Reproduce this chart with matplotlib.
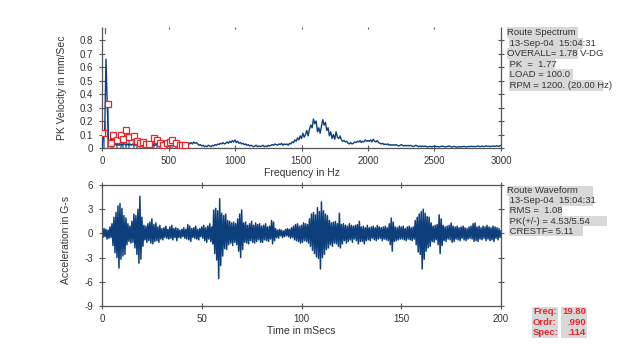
import numpy as np
import matplotlib
matplotlib.use("Agg")
import matplotlib.pyplot as plt
from matplotlib.patches import Rectangle

plt.rcParams['font.family'] = ['Liberation Sans', 'DejaVu Sans']

# spectrum, one value every 10 Hz from 0 to 3000 Hz (mm/Sec)
spec_df = 10
spec_vals = [
    0.0, 0.08, 0.12, 0.66, 0.30, 0.04, 0.03, 0.09, 0.03, 0.02,
    0.03, 0.02, 0.03, 0.02, 0.03, 0.02, 0.03, 0.03, 0.02, 0.03,
    0.02, 0.03, 0.02, 0.03, 0.02, 0.02, 0.03, 0.02, 0.02, 0.03,
    0.02, 0.02, 0.03, 0.02, 0.02, 0.03, 0.02, 0.02, 0.03, 0.02,
    0.02, 0.03, 0.02, 0.02, 0.03, 0.02, 0.02, 0.03, 0.02, 0.02,
    0.03, 0.02, 0.02, 0.03, 0.02, 0.02, 0.02, 0.03, 0.02, 0.02,
    0.02, 0.02, 0.03, 0.02, 0.03, 0.04, 0.03, 0.04, 0.03, 0.045,
    0.035, 0.04, 0.03, 0.02, 0.025, 0.015, 0.02, 0.01, 0.015, 0.01,
    0.02, 0.015, 0.01, 0.02, 0.015, 0.025, 0.02, 0.03, 0.025, 0.035,
    0.03, 0.04, 0.03, 0.035, 0.045, 0.035, 0.05, 0.04, 0.055, 0.045,
    0.06, 0.04, 0.05, 0.035, 0.04, 0.03, 0.035, 0.025, 0.03, 0.02,
    0.025, 0.015, 0.02, 0.015, 0.01, 0.015, 0.02, 0.01, 0.015, 0.01,
    0.015, 0.02, 0.01, 0.015, 0.01, 0.02, 0.015, 0.02, 0.025, 0.02,
    0.03, 0.025, 0.02, 0.03, 0.025, 0.035, 0.02, 0.03, 0.025, 0.03,
    0.02, 0.035, 0.03, 0.045, 0.04, 0.06, 0.05, 0.075, 0.06, 0.09,
    0.07, 0.11, 0.08, 0.10, 0.13, 0.09, 0.14, 0.17, 0.15, 0.215,
    0.18, 0.20, 0.12, 0.15, 0.11, 0.16, 0.21, 0.17, 0.19, 0.13,
    0.15, 0.09, 0.12, 0.07, 0.10, 0.065, 0.12, 0.08, 0.07, 0.09,
    0.06, 0.05, 0.055, 0.045, 0.05, 0.035, 0.03, 0.04, 0.03, 0.035,
    0.045, 0.04, 0.05, 0.045, 0.055, 0.04, 0.05, 0.045, 0.06, 0.05,
    0.055, 0.05, 0.06, 0.045, 0.065, 0.05, 0.045, 0.055, 0.04, 0.035,
    0.03, 0.035, 0.025, 0.03, 0.025, 0.03, 0.02, 0.025, 0.02, 0.025,
    0.02, 0.025, 0.02, 0.015, 0.02, 0.025, 0.02, 0.015, 0.02, 0.015,
    0.02, 0.015, 0.02, 0.015, 0.01, 0.015, 0.02, 0.015, 0.01, 0.015,
    0.01, 0.015, 0.01, 0.015, 0.01, 0.008, 0.012, 0.01, 0.008, 0.012,
    0.015, 0.01, 0.012, 0.008, 0.01, 0.012, 0.015, 0.01, 0.008, 0.01,
    0.012, 0.015, 0.01, 0.008, 0.01, 0.012, 0.008, 0.006, 0.008, 0.01,
    0.008, 0.01, 0.012, 0.01, 0.008, 0.01, 0.012, 0.01, 0.013, 0.01,
    0.012, 0.01, 0.013, 0.015, 0.01, 0.012, 0.014, 0.01, 0.013, 0.015,
    0.012, 0.014, 0.01, 0.013, 0.015, 0.012, 0.014, 0.016, 0.012, 0.015,
    0.02,
]

# harmonic markers (red squares)
harm_freq = [15, 45, 65, 85, 110, 140, 160, 180, 205, 240, 260, 285, 310,
             330, 350, 390, 410, 435, 460, 485, 510, 530, 560, 585, 605, 625]
harm_amp = [0.11, 0.33, 0.035, 0.10, 0.06, 0.10, 0.065, 0.13, 0.085, 0.09,
            0.055, 0.04, 0.047, 0.03, 0.03, 0.077, 0.06, 0.04, 0.025, 0.035,
            0.047, 0.06, 0.035, 0.025, 0.02, 0.02]
cursor_freq = 19.8

# waveform, one sample every 0.5 ms from 0 to 200 ms (G-s)
wave_dt = 0.5
wave_vals = [
    0.2, -0.5, 0.6, -0.4, 0.5, -0.7, 0.4, -0.6, 0.8, -0.5, 1.2, -1.5, 2.0, -2.4, 2.6, -3.0, 3.4, -4.3, 3.7, -3.2,
    3.1, -2.8, 2.2, -2.6, 1.9, -1.4, 1.2, -1.0, 0.9, -1.2, 1.5, -1.1, 2.4, -1.8, 2.2, -2.6, 3.0, -3.7, 4.6, -3.2,
    2.0, -1.6, 1.0, -0.8, 0.9, -1.1, 1.2, -0.9, 1.4, -1.2, 1.8, -1.3, 1.1, -1.0, 1.3, -0.9, 0.8, -1.1, 1.0, -0.7,
    0.6, -0.8, 0.7, -0.5, 0.9, -0.6, 0.5, -0.7, 0.8, -0.6, 1.0, -0.8, 0.6, -0.5, 0.7, -0.9, 0.6, -0.5, 0.4, -0.6,
    0.5, -0.4, 0.7, -0.6, 0.5, -0.7, 1.1, -0.8, 0.9, -1.0, 0.6, -0.5, 0.7, -0.6, 0.9, -0.7, 0.5, -0.8, 0.6, -0.4,
    0.8, -0.6, 1.0, -0.9, 0.7, -1.1, 0.9, -0.7, 1.2, -1.0, 0.8, -1.3, 2.9, -2.5, 3.1, -3.3, 2.8, -5.6, 4.3, -4.0,
    2.5, -2.8, 2.2, -1.9, 2.4, -2.0, 1.6, -1.4, 1.5, -1.2, 1.3, -1.5, 1.4, -1.1, 1.2, -1.4, 1.8, -2.2, 2.4, -3.0,
    2.9, -2.0, 1.3, -1.1, 1.4, -1.2, 1.0, -1.3, 1.2, -0.9, 1.5, -1.1, 1.0, -1.2, 1.3, -1.0, 1.1, -0.8, 1.2, -1.1,
    0.9, -1.1, 1.0, -0.8, 1.2, -0.9, 0.8, -1.0, 0.9, -0.7, 1.6, -1.3, 1.4, -0.9, 0.6, -0.5, 0.4, -0.6, 0.5, -0.3,
    0.4, -0.5, 0.3, -0.4, 0.5, -0.3, 0.6, -0.4, 0.5, -0.6, 0.7, -0.5, 0.9, -0.8, 1.1, -0.9, 1.2, -1.0, 0.9, -1.2,
    1.0, -1.1, 1.3, -0.9, 1.2, -1.0, 1.1, -1.2, 1.8, -1.6, 2.4, -2.1, 2.6, -2.5, 2.3, -2.9, 3.2, -3.1, 2.7, -4.4,
    3.9, -3.0, 2.8, -2.6, 2.4, -2.0, 2.2, -1.8, 1.6, -1.4, 1.3, -1.6, 1.4, -1.2, 1.5, -1.3, 1.2, -1.6, 2.5, -1.8,
    1.1, -1.3, 1.2, -0.9, 1.0, -1.2, 0.9, -1.0, 1.2, -0.8, 1.0, -1.1, 0.9, -0.7, 1.0, -0.9, 1.1, -1.3, 1.5, -1.0,
    0.8, -1.0, 0.9, -1.3, 0.7, -0.9, 1.0, -0.8, 0.7, -0.9, 0.8, -0.6, 0.9, -0.8, 0.7, -0.9, 1.0, -0.7, 0.8, -0.6,
    0.7, -0.9, 0.8, -0.7, 0.9, -0.8, 0.7, -0.9, 1.2, -1.4, 1.9, -2.2, 1.4, -1.0, 0.8, -0.9, 0.7, -0.8, 0.9, -0.7,
    0.8, -0.7, 0.9, -0.8, 0.6, -0.9, 0.8, -0.7, 0.9, -0.8, 0.7, -0.9, 0.8, -0.7, 1.6, -1.4, 2.0, -2.3, 2.4, -2.6,
    2.7, -4.4, 3.0, -3.2, 2.5, -2.2, 2.1, -1.8, 2.0, -1.6, 1.3, -1.0, 0.9, -1.1, 1.0, -0.8, 1.1, -1.4, 2.3, -2.5,
    1.8, -1.5, 1.0, -0.9, 0.8, -1.0, 0.9, -0.7, 1.0, -0.8, 1.3, -1.1, 0.9, -1.0, 0.8, -0.7, 0.9, -0.8, 0.7, -0.9,
    0.8, -0.6, 0.9, -0.8, 0.7, -0.9, 0.6, -0.7, 0.8, -0.6, 0.9, -0.7, 1.2, -1.0, 1.3, -0.9, 0.8, -1.0, 0.9, -0.7,
    0.7, -0.8, 0.9, -0.6, 0.8, -0.9, 1.0, -0.7, 0.8, -0.9, 0.7, -0.8, 0.9, -1.0, 0.8, -0.6, 0.7, -0.8, 0.6, -0.5,
    0.3,
]

spec_box = ["Route Spectrum", " 13-Sep-04  15:04:31", "OVERALL= 1.78 V-DG",
            " PK  =  1.77", " LOAD = 100.0", " RPM = 1200. (20.00 Hz)"]
wave_box = ["Route Waveform", " 13-Sep-04  15:04:31", " RMS =  1.08",
            " PK(+/-) = 4.53/5.54", " CRESTF= 5.11"]
cursor_labels = ["Freq:", "Ordr:", "Spec:"]
cursor_values = ["19.80", ".990", ".114"]

W, H = 640, 354
BLUE = "#0d3f7d"
LIGHT = "#4f80c0"
RED = "#e8262a"
GREY_BG = "#d8d8d8"
TXT = "#333333"

fig = plt.figure(figsize=(6.4, 3.54), dpi=100)

def ax_rect(x0, y0, x1, y1):
    return [x0 / W, 1 - y1 / H, (x1 - x0) / W, (y1 - y0) / H]

def style(ax):
    for s in ax.spines.values():
        s.set_color("#555555")
        s.set_linewidth(0.9)
    ax.tick_params(direction="inout", length=5, width=0.8, colors="#555555",
                   labelsize=7, labelcolor=TXT, pad=4)

# ---- spectrum ----
ax1 = fig.add_axes(ax_rect(102, 28, 501, 148))
style(ax1)
freq = np.arange(len(spec_vals)) * spec_df
ax1.vlines(harm_freq, 0, harm_amp, color=LIGHT, lw=1.2, zorder=2)
ax1.plot(freq, spec_vals, color=BLUE, lw=1.0, zorder=3)
ax1.plot(harm_freq, harm_amp, ls="none", marker="s", ms=4, mfc="white",
         mec=RED, mew=0.9, zorder=4)
ax1.plot([cursor_freq, cursor_freq], [0.1, 0.2], color=RED, lw=0.9, zorder=4)
ax1.plot([cursor_freq, cursor_freq], [0.855, 0.89], color=RED, lw=0.9, zorder=4, clip_on=False)
ax1.set_xlim(0, 3000)
ax1.set_ylim(0, 0.89)
ax1.set_xticks([0, 500, 1000, 1500, 2000, 2500, 3000])
ax1.set_yticks([0, 0.1, 0.2, 0.3, 0.4, 0.5, 0.6, 0.7, 0.8])
ax1.set_yticklabels(["0", "0.1", "0.2", "0.3", "0.4", "0.5", "0.6", "0.7", "0.8"])
ax1.spines["top"].set_visible(False)
ax1.tick_params(right=True)
ax1.tick_params(axis="x", pad=3)
ax1.tick_params(axis="x", which="major", top=True)
for tk in ax1.xaxis.get_major_ticks():
    tk.tick2line.set_markersize(1.5)
ax1.set_xlabel("Frequency in Hz", fontsize=7.5, color=TXT)
ax1.set_ylabel("PK Velocity in mm/Sec", fontsize=7.5, color=TXT)
ax1.xaxis.set_label_coords(0.5, -0.17)
ax1.yaxis.set_label_coords(-0.088, 0.5)

# ---- waveform ----
ax2 = fig.add_axes(ax_rect(102, 185, 501, 306))
style(ax2)
t = np.arange(len(wave_vals)) * wave_dt
ax2.plot(t, wave_vals, color=BLUE, lw=1.1)
ax2.set_xlim(0, 200)
ax2.set_ylim(-9, 6)
ax2.set_xticks([0, 50, 100, 150, 200])
ax2.set_yticks([-9, -6, -3, 0, 3, 6])
ax2.set_yticklabels(["-9", "-6", "-3", "0", "3", "6"])
ax2.tick_params(right=True, top=True)
ax2.tick_params(axis="x", pad=3)
ax2.set_xlabel("Time in mSecs", fontsize=7.5, color=TXT)
ax2.set_ylabel("Acceleration in G-s", fontsize=7.5, color=TXT)
ax2.xaxis.set_label_coords(0.5, -0.165)
ax2.yaxis.set_label_coords(-0.078, 0.55)

# ---- info boxes ----
def bg(x0, x1, ytop, h):
    fig.patches.append(Rectangle((x0 / W, 1 - (ytop + h) / H), (x1 - x0) / W, h / H,
                                 transform=fig.transFigure, fc=GREY_BG, ec="none", zorder=0))

def info_box(lines, x_ends, top, pitch):
    for i, (s, xe) in enumerate(zip(lines, x_ends)):
        y = top + i * pitch
        bg(507 if i == 0 or not s.startswith(" ") else 509, xe, y, pitch)
        fig.text(507 / W, 1 - (y + pitch / 2) / H, s, fontsize=6.8, color=TXT,
                 ha="left", va="center")

info_box(spec_box, [578, 583, 578, 555, 573, 603], 27.5, 10.5)
info_box(wave_box, [593, 593, 562, 607, 583], 185.7, 10.1)

for i, (lab, val) in enumerate(zip(cursor_labels, cursor_values)):
    y = 306.7 + i * 10.3
    bg(531.5, 557.5, y, 10.3)
    bg(560.5, 586.5, y, 10.3)
    fig.text(533 / W, 1 - (y + 5.15) / H, lab, fontsize=6.8, color=RED,
             fontweight="bold", ha="left", va="center")
    fig.text(586 / W, 1 - (y + 5.15) / H, val, fontsize=6.8, color=RED,
             fontweight="bold", ha="right", va="center")

plt.savefig("out.png", dpi=100)
